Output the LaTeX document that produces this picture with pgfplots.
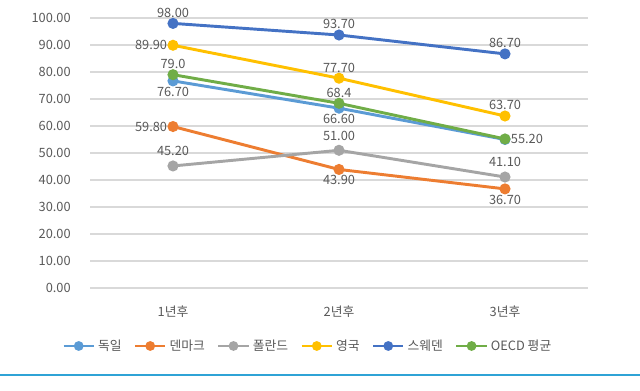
\documentclass[border=0pt]{standalone}
\usepackage{pgfplots}
\pgfplotsset{compat=1.18}
\usepackage{fontspec}
\setmainfont{Noto Sans CJK KR}
\definecolor{cDE}{HTML}{5B9BD5}
\definecolor{cDK}{HTML}{ED7D31}
\definecolor{cPL}{HTML}{A5A5A5}
\definecolor{cUK}{HTML}{FFC000}
\definecolor{cSE}{HTML}{4472C4}
\definecolor{cOE}{HTML}{70AD47}
\definecolor{txt}{HTML}{595959}
\definecolor{gridc}{HTML}{D9D9D9}
\definecolor{barc}{HTML}{2FA3D6}
\begin{document}
\begin{tikzpicture}
\useasboundingbox (0pt,0pt) rectangle (480pt,293.25pt);
\begin{axis}[
  at={(67.5pt,77.25pt)}, anchor=south west,
  scale only axis, width=373.5pt, height=202.5pt,
  xmin=-0.5, xmax=2.5, ymin=0, ymax=100,
  xtick={0,1,2}, xticklabels={1년후,2년후,3년후},
  ytick={0,10,...,100},
  xmajorgrids=false, ymajorgrids=true,
  grid style={draw=gridc, line width=0.8pt},
  axis line style={draw=none},
  major tick length=0pt,
  tick label style={font=\fontsize{9.6}{11}\selectfont, text=txt},
  yticklabel style={/pgf/number format/fixed, /pgf/number format/fixed zerofill, /pgf/number format/precision=2, /pgf/number format/assume math mode=true, xshift=-11pt},
  xticklabel style={yshift=-10pt},
  every axis plot/.append style={line width=2.2pt, mark=*, mark size=3pt},
  nodes near coords style={font=\fontsize{9.6}{11}\selectfont, text=txt},
  legend columns=6,
  legend style={at={(0.4378,-0.2148)}, anchor=center, draw=none, fill=none,
    font=\fontsize{9.6}{11}\selectfont, text=txt,
    /tikz/every even column/.append style={column sep=7pt}},
  legend image code/.code={
    \draw[line width=2.2pt] (0cm,0cm) -- (0.8cm,0cm);
    \fill (0.4cm,0cm) circle (2.5pt);},
]
% 독일
\addplot[cDE, nodes near coords, point meta=explicit symbolic,
  visualization depends on={value \thisrow{anc} \as \anc},
  nodes near coords style={anchor=\anc}]
  table[meta=lab]{
x y lab anc
0 76.7 76.70 north east
1 66.6 66.60 north
2 55.0 {} north
};
\addlegendentry{독일}
% 덴마크
\addplot[cDK, nodes near coords, point meta=explicit symbolic,
  visualization depends on={value \thisrow{anc} \as \anc},
  nodes near coords style={anchor=\anc}]
  table[meta=lab]{
x y lab anc
0 59.8 59.80 east
1 43.9 43.90 north
2 36.7 36.70 north
};
\addlegendentry{덴마크}
% 폴란드
\addplot[cPL, nodes near coords, point meta=explicit symbolic,
  visualization depends on={value \thisrow{anc} \as \anc},
  nodes near coords style={anchor=\anc, yshift=3pt}]
  table[meta=lab]{
x y lab anc
0 45.2 45.20 south
1 51.0 51.00 south
2 41.1 41.10 south
};
\addlegendentry{폴란드}
% 영국
\addplot[cUK, nodes near coords, point meta=explicit symbolic,
  visualization depends on={value \thisrow{anc} \as \anc},
  nodes near coords style={anchor=\anc}]
  table[meta=lab]{
x y lab anc
0 89.9 89.90 east
1 77.7 77.70 south
2 63.7 63.70 south
};
\addlegendentry{영국}
% 스웨덴
\addplot[cSE, nodes near coords, point meta=explicit symbolic,
  visualization depends on={value \thisrow{anc} \as \anc},
  nodes near coords style={anchor=\anc}]
  table[meta=lab]{
x y lab anc
0 98.0 98.00 south
1 93.7 93.70 south
2 86.7 86.70 south
};
\addlegendentry{스웨덴}
% OECD 평균
\addplot[cOE, nodes near coords, point meta=explicit symbolic,
  visualization depends on={value \thisrow{anc} \as \anc},
  nodes near coords style={anchor=\anc}]
  table[meta=lab]{
x y lab anc
0 79.0 79.0 south east
1 68.4 68.4 south
2 55.2 55.20 west
};
\addlegendentry{OECD 평균}
\end{axis}
\draw[barc, line width=1.5pt] (0pt,12pt) -- (480pt,12pt);
\end{tikzpicture}
\end{document}
